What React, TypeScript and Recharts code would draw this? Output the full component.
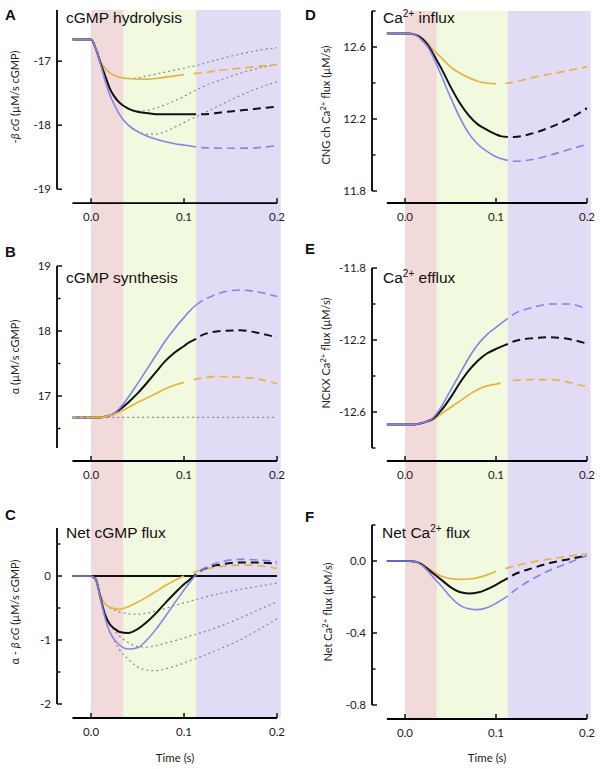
import React from "react";
import { ComposedChart, Line, XAxis, YAxis, ReferenceArea, ReferenceLine } from "recharts";

// time grid (s)
const T = [-0.02, 0, 0.005, 0.01, 0.015, 0.02, 0.025, 0.03, 0.04, 0.05, 0.06, 0.07, 0.08, 0.09, 0.1, 0.105, 0.113, 0.12, 0.14, 0.16, 0.18, 0.2];

// A: cGMP hydrolysis
const A_ORANGE = [-16.66, -16.66, -16.8, -17.0, -17.11, -17.18, -17.22, -17.25, -17.27, -17.28, -17.28, -17.27, -17.25, -17.23, -17.21, -17.2, -17.19, -17.18, -17.14, -17.11, -17.08, -17.05];
const A_BLACK = [-16.66, -16.66, -16.8, -17.02, -17.22, -17.42, -17.55, -17.64, -17.74, -17.79, -17.81, -17.83, -17.83, -17.83, -17.83, -17.83, -17.83, -17.83, -17.8, -17.77, -17.74, -17.71];
const A_BLUE = [-16.66, -16.66, -16.8, -17.04, -17.3, -17.52, -17.68, -17.82, -18.0, -18.1, -18.17, -18.22, -18.26, -18.29, -18.31, -18.32, -18.34, -18.35, -18.36, -18.36, -18.35, -18.32];
const A_ALT1 = [null, null, null, null, null, null, null, -17.25, -17.27, -17.26, -17.23, -17.2, -17.17, -17.14, -17.11, -17.09, -17.07, -17.04, -16.96, -16.89, -16.83, -16.79];
const A_ALT2 = [null, null, null, null, null, null, null, null, -17.74, -17.78, -17.77, -17.73, -17.68, -17.62, -17.55, -17.51, -17.45, -17.4, -17.29, -17.19, -17.11, -17.05];
const A_ALT3 = [null, null, null, null, null, null, null, null, -18.0, -18.09, -18.14, -18.14, -18.1, -18.03, -17.96, -17.92, -17.87, -17.82, -17.68, -17.54, -17.42, -17.32];

// B: cGMP synthesis
const B_ORANGE = [16.67, 16.67, 16.67, 16.67, 16.68, 16.7, 16.72, 16.75, 16.82, 16.9, 16.97, 17.04, 17.11, 17.17, 17.21, 17.24, 17.26, 17.28, 17.3, 17.29, 17.26, 17.19];
const B_BLACK = [16.67, 16.67, 16.67, 16.67, 16.68, 16.7, 16.73, 16.78, 16.9, 17.04, 17.2, 17.37, 17.54, 17.67, 17.77, 17.82, 17.88, 17.94, 18.0, 18.01, 17.97, 17.9];
const B_BLUE = [16.67, 16.67, 16.67, 16.67, 16.68, 16.7, 16.74, 16.8, 16.98, 17.19, 17.41, 17.63, 17.85, 18.04, 18.21, 18.29, 18.4, 18.47, 18.59, 18.63, 18.6, 18.53];
const B_BASE = 16.67;

// C: net cGMP flux
const C_ORANGE = [0, 0, -0.05, -0.3, -0.43, -0.49, -0.51, -0.52, -0.48, -0.41, -0.33, -0.24, -0.15, -0.07, 0.0, 0.03, 0.07, 0.1, 0.15, 0.17, 0.16, 0.12];
const C_BLACK = [0, 0, -0.05, -0.33, -0.6, -0.75, -0.82, -0.87, -0.89, -0.83, -0.72, -0.58, -0.42, -0.27, -0.13, -0.07, 0.03, 0.1, 0.18, 0.21, 0.21, 0.19];
const C_BLUE = [0, 0, -0.05, -0.35, -0.65, -0.87, -0.99, -1.07, -1.14, -1.12, -1.0, -0.83, -0.63, -0.42, -0.22, -0.12, 0.02, 0.1, 0.22, 0.26, 0.25, 0.22];
const C_ALT1 = [null, null, null, null, null, -0.49, -0.53, -0.56, -0.59, -0.6, -0.58, -0.55, -0.51, -0.46, -0.42, -0.4, -0.37, -0.34, -0.27, -0.21, -0.16, -0.11];
const C_ALT2 = [null, null, null, null, null, -0.75, -0.85, -0.93, -1.04, -1.1, -1.11, -1.09, -1.05, -1.01, -0.97, -0.94, -0.91, -0.88, -0.78, -0.66, -0.53, -0.4];
const C_ALT3 = [null, null, null, null, null, -0.87, -1.02, -1.14, -1.3, -1.42, -1.47, -1.48, -1.45, -1.41, -1.36, -1.33, -1.29, -1.25, -1.13, -1.0, -0.84, -0.67];

// D: Ca influx
const D_ORANGE = [12.675, 12.675, 12.675, 12.67, 12.66, 12.645, 12.62, 12.59, 12.54, 12.49, 12.455, 12.43, 12.41, 12.4, 12.395, 12.395, 12.4, 12.405, 12.43, 12.45, 12.47, 12.49];
const D_BLACK = [12.675, 12.675, 12.675, 12.67, 12.66, 12.64, 12.61, 12.57, 12.48, 12.38, 12.29, 12.22, 12.17, 12.14, 12.115, 12.105, 12.1, 12.1, 12.12, 12.155, 12.2, 12.26];
const D_BLUE = [12.675, 12.675, 12.675, 12.67, 12.655, 12.63, 12.6, 12.555, 12.44, 12.32, 12.21, 12.12, 12.06, 12.02, 11.99, 11.98, 11.97, 11.965, 11.975, 12.0, 12.03, 12.06];

// E: Ca efflux
const E_ORANGE = [-12.67, -12.67, -12.67, -12.67, -12.665, -12.66, -12.655, -12.645, -12.61, -12.575, -12.54, -12.505, -12.475, -12.455, -12.445, -12.44, -12.43, -12.425, -12.42, -12.42, -12.435, -12.46];
const E_BLACK = [-12.67, -12.67, -12.67, -12.67, -12.665, -12.66, -12.65, -12.64, -12.59, -12.52, -12.44, -12.37, -12.315, -12.275, -12.25, -12.238, -12.222, -12.207, -12.19, -12.185, -12.195, -12.22];
const E_BLUE = [-12.67, -12.67, -12.67, -12.67, -12.665, -12.66, -12.65, -12.635, -12.57, -12.48, -12.39, -12.3, -12.225, -12.17, -12.13, -12.11, -12.08, -12.055, -12.02, -12.0, -12.0, -12.03];

// F: net Ca flux
const F_ORANGE = [0, 0, 0, -0.003, -0.008, -0.02, -0.038, -0.055, -0.085, -0.098, -0.102, -0.1, -0.092, -0.077, -0.058, -0.05, -0.038, -0.028, -0.005, 0.012, 0.027, 0.04];
const F_BLACK = [0, 0, 0, -0.003, -0.01, -0.025, -0.045, -0.065, -0.105, -0.145, -0.172, -0.18, -0.175, -0.157, -0.132, -0.118, -0.095, -0.075, -0.04, -0.01, 0.01, 0.03];
const F_BLUE = [0, 0, 0, -0.003, -0.012, -0.03, -0.055, -0.085, -0.14, -0.2, -0.245, -0.265, -0.27, -0.26, -0.235, -0.22, -0.195, -0.165, -0.1, -0.05, -0.01, 0.03];

const X_TICKS = [0, 0.1, 0.2];
const PHASES = [0, 0.035, 0.113, 0.204];

const PHASE_COLORS = ["#f2dada", "#f1f9df", "#e2dbf5"];
const ORANGE = "#e8b33e";
const BLUE = "#8084ec";
const BLACK = "#111111";
const GREY = "#8a8a8a";
const TICK_FONT = "Lato, 'Open Sans', sans-serif";
const TITLE_FONT = "'Liberation Sans', Arial, sans-serif";

type Curve = { values: (number | null)[]; color: string; width: number; solidEnd: number; dashFrom: number; preDash?: boolean };

const oc = (v: (number | null)[], s = 0.1, d = 0.105, preDash = false): Curve => ({ values: v, color: ORANGE, width: 1.7, solidEnd: s, dashFrom: d, preDash });
const kc = (v: (number | null)[], s = 0.113, d = 0.113): Curve => ({ values: v, color: BLACK, width: 2, solidEnd: s, dashFrom: d });
const bc = (v: (number | null)[], s = 0.113, d = 0.113): Curve => ({ values: v, color: BLUE, width: 1.6, solidEnd: s, dashFrom: d });

function Panel(p: any) {
  // plot area = exactly the y axis span; x axis sits `gap` px lower (offset axes)
  const plotH = (p.yTop - p.yBot) * p.ppu;
  const xh = p.height - p.mt - plotH;
  const xLineVal = p.yBot - p.gap / p.ppu;
  const axisY = p.mt + plotH + p.gap;
  const far = 100;
  const bandY1 = p.bandToAxis ? xLineVal : p.yBot - far;
  const bandY2 = p.bandFromTop ? p.yTop : p.yTop + far;

  const rows = T.map((t, i) => {
    const r: any = { t };
    p.curves.forEach((c: Curve, j: number) => {
      const v = c.values[i];
      const inSolid = t <= c.solidEnd + 1e-9 && (!c.preDash || t >= -1e-9);
      r["s" + j] = inSolid ? v : null;
      r["d" + j] = t >= c.dashFrom - 1e-9 ? v : null;
      if (c.preDash) r["p" + j] = t <= 1e-9 ? v : null;
    });
    (p.alts || []).forEach((a: (number | null)[], j: number) => {
      r["g" + j] = a[i];
    });
    return r;
  });

  const YTick = (tp: any) => {
    const v = tp.payload.value;
    const isMajor = p.major.some((m: number) => Math.abs(m - v) < 1e-9);
    return (
      <g>
        <line x1={p.yw} x2={p.yw + (isMajor ? 5 : 3.5)} y1={tp.y} y2={tp.y} stroke="#000" strokeWidth={1.4} />
        {isMajor && (
          <text x={p.yw - 6} y={tp.y} dy="0.35em" textAnchor="end" fontFamily={TICK_FONT} fontSize={11.5} fill="#222">
            {p.fmt(v)}
          </text>
        )}
      </g>
    );
  };

  const XTick = (tp: any) => (
    <g>
      <line x1={tp.x} x2={tp.x} y1={axisY} y2={axisY - 5} stroke="#000" strokeWidth={1.4} />
      <text x={tp.x} y={axisY + 18} textAnchor="middle" fontFamily={TICK_FONT} fontSize={11.5} fill="#222">
        {tp.payload.value.toFixed(1)}
      </text>
    </g>
  );

  return (
    <div style={{ position: "absolute", left: p.left, top: p.top }}>
      <ComposedChart width={300} height={p.height} data={rows} margin={{ top: p.mt, right: p.mr, bottom: 0, left: 0 }}>
        <XAxis
          type="number"
          dataKey="t"
          domain={[p.xMin, 0.2]}
          allowDataOverflow
          ticks={X_TICKS}
          interval={0}
          height={xh}
          axisLine={false}
          tickLine={false}
          tickSize={0}
          tick={XTick}
        />
        <YAxis
          type="number"
          domain={[p.yBot, p.yTop]}
          allowDataOverflow
          ticks={[...p.major, ...p.minor]}
          interval={0}
          width={p.yw}
          axisLine={{ stroke: "#000", strokeWidth: 1.8 }}
          tickLine={false}
          tickSize={0}
          tick={YTick}
        />
        {PHASE_COLORS.map((c, i) => (
          <ReferenceArea
            key={"ph" + i}
            x1={PHASES[i]}
            x2={PHASES[i + 1]}
            y1={bandY1}
            y2={bandY2}
            fill={c}
            fillOpacity={1}
            stroke="none"
            ifOverflow="visible"
          />
        ))}
        <ReferenceLine segment={[{ x: -0.02, y: xLineVal }, { x: 0.2, y: xLineVal }]} stroke="#000" strokeWidth={1.8} ifOverflow="visible" />
        {p.zeroLine && (
          <ReferenceLine segment={[{ x: 0, y: 0 }, { x: 0.2, y: 0 }]} stroke="#111" strokeWidth={1.8} ifOverflow="visible" />
        )}
        {p.baseline !== undefined && (
          <ReferenceLine
            segment={[{ x: 0.012, y: p.baseline }, { x: 0.2, y: p.baseline }]}
            stroke={GREY}
            strokeWidth={1.2}
            strokeDasharray="2 3"
            ifOverflow="visible"
          />
        )}
        {(p.alts || []).map((_: any, j: number) => (
          <Line
            key={"g" + j}
            dataKey={"g" + j}
            type="monotone"
            stroke={GREY}
            strokeWidth={1.2}
            strokeDasharray="2 3"
            dot={false}
            activeDot={false}
            isAnimationActive={false}
          />
        ))}
        {p.curves.map((c: Curve, j: number) => [
          <Line
            key={"s" + j}
            dataKey={"s" + j}
            type="monotone"
            stroke={c.color}
            strokeWidth={c.width}
            dot={false}
            activeDot={false}
            isAnimationActive={false}
          />,
          <Line
            key={"d" + j}
            dataKey={"d" + j}
            type="monotone"
            stroke={c.color}
            strokeWidth={c.width}
            strokeDasharray="8 5"
            strokeDashoffset={8}
            dot={false}
            activeDot={false}
            isAnimationActive={false}
          />,
          c.preDash ? (
            <Line
              key={"p" + j}
              dataKey={"p" + j}
              type="linear"
              stroke={c.color}
              strokeWidth={c.width}
              strokeDasharray="4 3"
              dot={false}
              activeDot={false}
              isAnimationActive={false}
            />
          ) : null,
        ])}
      </ComposedChart>
    </div>
  );
}

const f0 = (v: number) => String(v);
const f1 = (v: number) => v.toFixed(1);

const LEFT = { left: 0, yw: 57, mr: 23, xMin: -0.0366 };
const RIGHT = { left: 300, yw: 72, mr: 13, xMin: -0.0363 };

const Sup = ({ s }: { s: string }) => (
  <>
    <tspan dy={-6} fontSize={10}>{s}</tspan>
    <tspan dy={6}> </tspan>
  </>
);

export default function App() {
  const yLab = { fontFamily: TICK_FONT, fontSize: 11, fill: "#222", textAnchor: "middle" as const };
  const title = { fontFamily: TITLE_FONT, fontSize: 15.5, fill: "#111" };
  const letter = { fontFamily: TITLE_FONT, fontSize: 15, fontWeight: 700, fill: "#111" };
  return (
    <div style={{ position: "absolute", left: 0, top: 0, width: 600, height: 769, background: "#fff" }}>
      <Panel {...LEFT} top={0} height={250} mt={10} gap={14} ppu={64} yTop={-16.2} yBot={-19}
        major={[-19, -18, -17]} minor={[]} fmt={f0} bandFromTop
        curves={[oc(A_ORANGE), kc(A_BLACK), bc(A_BLUE)]} alts={[A_ALT1, A_ALT2, A_ALT3]} />
      <Panel {...LEFT} top={250} height={250} mt={16} gap={13} ppu={65} yTop={19} yBot={16.2}
        major={[17, 18, 19]} minor={[16.5, 17.5, 18.5]} fmt={f0} baseline={B_BASE}
        curves={[kc(B_BLACK), bc(B_BLUE, 0.12, 0.12), oc(B_ORANGE, 0.1, 0.105, true)]} />
      <Panel {...LEFT} top={500} height={269} mt={28} gap={14} ppu={64} yTop={0.75} yBot={-2}
        major={[-2, -1, 0]} minor={[-1.5, -0.5, 0.5]} fmt={f0} bandToAxis zeroLine
        curves={[oc(C_ORANGE), kc(C_BLACK), bc(C_BLUE)]} alts={[C_ALT1, C_ALT2, C_ALT3]} />

      <Panel {...RIGHT} top={0} height={250} mt={11} gap={12} ppu={180} yTop={12.8} yBot={11.8}
        major={[11.8, 12.2, 12.6]} minor={[12.0, 12.4, 12.8]} fmt={f1} bandFromTop
        curves={[oc(D_ORANGE), kc(D_BLACK), bc(D_BLUE)]} />
      <Panel {...RIGHT} top={250} height={250} mt={18} gap={13} ppu={180} yTop={-11.8} yBot={-12.8}
        major={[-12.6, -12.2, -11.8]} minor={[-12.8, -12.4, -12.0]} fmt={f1}
        curves={[oc(E_ORANGE, 0.105, 0.113), kc(E_BLACK), bc(E_BLUE)]} />
      <Panel {...RIGHT} top={500} height={269} mt={25} gap={14} ppu={180} yTop={0.2} yBot={-0.8}
        major={[-0.8, -0.4, 0]} minor={[-0.6, -0.2, 0.2]} fmt={f1} bandToAxis
        curves={[oc(F_ORANGE), kc(F_BLACK), bc(F_BLUE)]} />

      <svg width={600} height={769} style={{ position: "absolute", left: 0, top: 0, pointerEvents: "none" }}>
        <text x={5} y={20} {...letter}>A</text>
        <text x={5} y={257} {...letter}>B</text>
        <text x={5} y={520} {...letter}>C</text>
        <text x={305} y={20} {...letter}>D</text>
        <text x={305} y={254} {...letter}>E</text>
        <text x={305} y={522} {...letter}>F</text>

        <text x={66} y={23} {...title}>cGMP hydrolysis</text>
        <text x={66} y={283} {...title}>cGMP synthesis</text>
        <text x={66} y={538} {...title}>Net cGMP flux</text>
        <text x={383} y={23} {...title}>Ca<Sup s="2+" />influx</text>
        <text x={383} y={283} {...title}>Ca<Sup s="2+" />efflux</text>
        <text x={382} y={538} {...title}>Net Ca<Sup s="2+" />flux</text>

        <text x={19} y={97} transform="rotate(-90 19 97)" {...yLab}>
          -<tspan fontStyle="italic">β cG</tspan>  (µM/s cGMP)
        </text>
        <text x={19} y={357} transform="rotate(-90 19 357)" {...yLab}>
          α  (µM/s cGMP)
        </text>
        <text x={19} y={612} transform="rotate(-90 19 612)" {...yLab}>
          α - <tspan fontStyle="italic">β cG</tspan>  (µM/s cGMP)
        </text>
        <text x={330} y={105} transform="rotate(-90 330 105)" {...yLab}>
          CNG ch Ca<tspan dy={-4} fontSize={8}>2+</tspan><tspan dy={4}> flux  (µM/s)</tspan>
        </text>
        <text x={330} y={353} transform="rotate(-90 330 353)" {...yLab}>
          NCKX Ca<tspan dy={-4} fontSize={8}>2+</tspan><tspan dy={4}> flux  (µM/s)</tspan>
        </text>
        <text x={332} y={612} transform="rotate(-90 332 612)" {...yLab}>
          Net Ca<tspan dy={-4} fontSize={8}>2+</tspan><tspan dy={4}> flux  (µM/s)</tspan>
        </text>

        <text x={175} y={762} textAnchor="middle" fontFamily={TICK_FONT} fontSize={11.5} fill="#222">Time (s)</text>
        <text x={487} y={762} textAnchor="middle" fontFamily={TICK_FONT} fontSize={11.5} fill="#222">Time (s)</text>
      </svg>
    </div>
  );
}
